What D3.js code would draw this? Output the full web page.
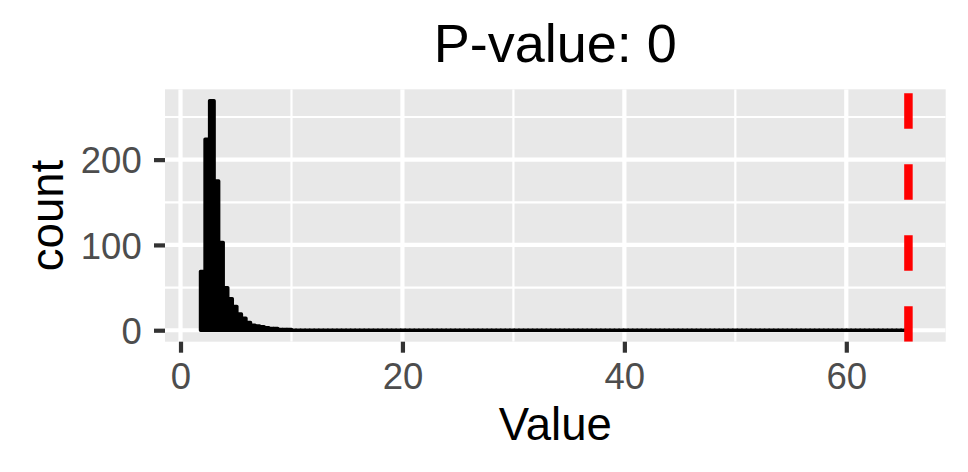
<!DOCTYPE html>
<html>
<head>
<meta charset="utf-8">
<script src="https://cdn.jsdelivr.net/npm/d3@7"></script>
<style>
  html, body { margin: 0; padding: 0; background: #ffffff; }
  svg { display: block; font-family: "Liberation Sans", Arial, Helvetica, sans-serif; }
</style>
</head>
<body>
<svg id="chart" width="968" height="472"></svg>
<script>
// ---- data ----
const titleText = "P-value: 0";
const xLabel = "Value";
const yLabel = "count";
const binStart = 1.8;      // left edge of the first bin
const binWidth = 0.41;     // width of each bin
const counts = [
  69, 224, 269, 175, 103, 50, 37, 28, 19, 14, 9, 6, 5, 4, 3, 2, 2, 1, 1, 1,
  0, 0, 0, 0, 0, 0, 0, 0, 0, 0, 0, 0, 0, 0, 0, 0, 0,
  0, 0, 0, 0, 0, 0, 0, 0, 0, 0, 0, 0, 0, 0, 0, 0, 0,
  0, 0, 0, 0, 0, 0, 0, 0, 0, 0, 0, 0, 0, 0, 0, 0, 0,
  0, 0, 0, 0, 0, 0, 0, 0, 0, 0, 0, 0, 0, 0, 0, 0, 0,
  0, 0, 0, 0, 0, 0, 0, 0, 0, 0, 0, 0, 0, 0, 0, 0, 0,
  0, 0, 0, 0, 0, 0, 0, 0, 0, 0, 0, 0, 0, 0, 0, 0, 0,
  0, 0, 0, 0, 0, 0, 0, 0, 0, 0, 0, 0, 0, 0, 0, 0, 0,
  0, 0, 0, 0, 0, 0, 0, 0, 0, 0, 0, 0, 0, 0, 0, 0, 0
];
const observed = 65.6;     // red dashed reference line
const xTicks = [0, 20, 40, 60];
const xMinor = [10, 30, 50];
const yTicks = [0, 100, 200];
const yMinor = [50, 150, 250];

// ---- layout ----
const W = 968, H = 472;
const panel = { left: 165, right: 945.7, top: 89.3, bottom: 341.7 };

const bins = counts.map((c, i) => ({ x0: binStart + i * binWidth, x1: binStart + (i + 1) * binWidth, count: c }));

const xMin = Math.min(bins[0].x0, observed);
const xMax = Math.max(bins[bins.length - 1].x1, observed);
const xPad = (xMax - xMin) * 0.05;
const x = d3.scaleLinear().domain([xMin - xPad, xMax + xPad]).range([panel.left, panel.right]);

const yMax = d3.max(counts);
const y = d3.scaleLinear().domain([-0.05 * yMax, 1.05 * yMax]).range([panel.bottom, panel.top]);

const svg = d3.select("#chart");

svg.append("defs").append("clipPath").attr("id", "clip")
  .append("rect")
  .attr("x", panel.left).attr("y", panel.top)
  .attr("width", panel.right - panel.left).attr("height", panel.bottom - panel.top);

// panel background
svg.append("rect")
  .attr("x", panel.left).attr("y", panel.top)
  .attr("width", panel.right - panel.left).attr("height", panel.bottom - panel.top)
  .attr("fill", "#E8E8E8");

const grid = svg.append("g").attr("clip-path", "url(#clip)");
// minor grid
grid.selectAll(".xminor").data(xMinor).enter().append("line")
  .attr("x1", d => x(d)).attr("x2", d => x(d))
  .attr("y1", panel.top).attr("y2", panel.bottom)
  .attr("stroke", "#fff").attr("stroke-width", 2.2);
grid.selectAll(".yminor").data(yMinor).enter().append("line")
  .attr("y1", d => y(d)).attr("y2", d => y(d))
  .attr("x1", panel.left).attr("x2", panel.right)
  .attr("stroke", "#fff").attr("stroke-width", 2.2);
// major grid
grid.selectAll(".xmajor").data(xTicks).enter().append("line")
  .attr("x1", d => x(d)).attr("x2", d => x(d))
  .attr("y1", panel.top).attr("y2", panel.bottom)
  .attr("stroke", "#fff").attr("stroke-width", 4.2);
grid.selectAll(".ymajor").data(yTicks).enter().append("line")
  .attr("y1", d => y(d)).attr("y2", d => y(d))
  .attr("x1", panel.left).attr("x2", panel.right)
  .attr("stroke", "#fff").attr("stroke-width", 4.2);

// histogram bars
const marks = svg.append("g").attr("clip-path", "url(#clip)");
marks.selectAll("path.bar").data(bins).enter().append("path")
  .attr("class", "bar")
  .attr("d", d => {
    const x0 = x(d.x0), x1 = x(d.x1), y0 = y(0), y1 = y(d.count);
    return `M${x0},${y0}H${x1}V${y1}H${x0}Z`;
  })
  .attr("fill", "#000").attr("stroke", "#000").attr("stroke-width", 3.4)
  .attr("stroke-linejoin", "round");

// observed value line (drawn bottom -> top, like ggplot)
marks.append("line")
  .attr("x1", x(observed)).attr("x2", x(observed))
  .attr("y1", panel.bottom).attr("y2", panel.top)
  .attr("stroke", "#FF0000").attr("stroke-width", 8.5)
  .attr("stroke-dasharray", "35.5 35.5");

// axes
const tickLen = 11;
const axisFs = 36.5;
const xAxis = d3.axisBottom(x).tickValues(xTicks).tickSize(tickLen).tickPadding(10).tickFormat(d3.format("d"));
const gx = svg.append("g").attr("transform", `translate(0,${panel.bottom})`).call(xAxis);
gx.select(".domain").remove();
gx.selectAll(".tick line").attr("stroke", "#333333").attr("stroke-width", 4.2);
gx.selectAll(".tick text").attr("fill", "#4D4D4D").attr("font-size", axisFs)
  .attr("font-family", "Liberation Sans, Arial, sans-serif")
  .attr("dy", null).attr("y", 389 - panel.bottom);

const yAxis = d3.axisLeft(y).tickValues(yTicks).tickSize(tickLen).tickPadding(11).tickFormat(d3.format("d"));
const gy = svg.append("g").attr("transform", `translate(${panel.left},0)`).call(yAxis);
gy.select(".domain").remove();
gy.selectAll(".tick line").attr("stroke", "#333333").attr("stroke-width", 4.2);
gy.selectAll(".tick text").attr("fill", "#4D4D4D").attr("font-size", axisFs)
  .attr("font-family", "Liberation Sans, Arial, sans-serif")
  .attr("dy", "0.36em").attr("x", 141.7 - panel.left);

// titles
const cx = (panel.left + panel.right) / 2;
svg.append("text").attr("x", cx).attr("y", 61.5)
  .attr("text-anchor", "middle").attr("font-size", 54).attr("fill", "#000")
  .text(titleText);
svg.append("text").attr("x", cx).attr("y", 440)
  .attr("text-anchor", "middle").attr("font-size", 45.5).attr("fill", "#000")
  .text(xLabel);
svg.append("text")
  .attr("transform", `translate(63,${(panel.top + panel.bottom) / 2}) rotate(-90)`)
  .attr("text-anchor", "middle").attr("font-size", 45.5).attr("fill", "#000")
  .text(yLabel);
</script>
</body>
</html>
